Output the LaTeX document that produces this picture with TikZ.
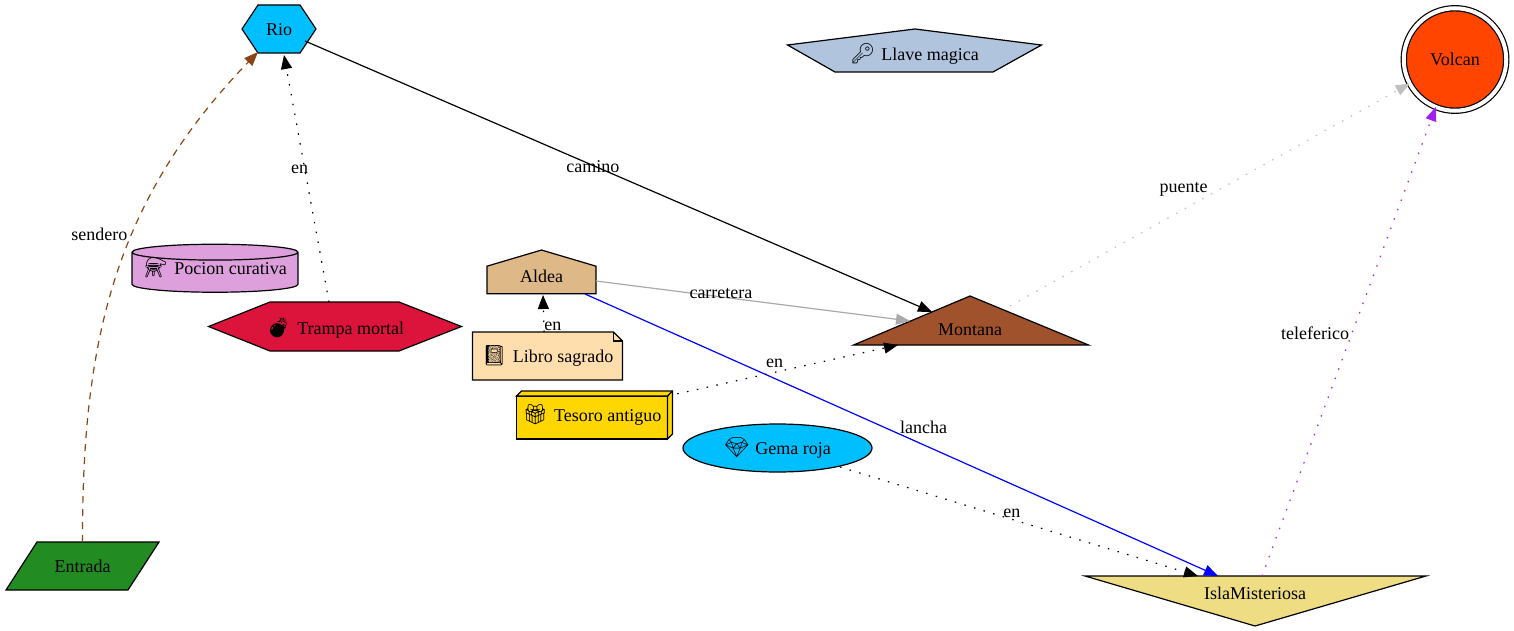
\documentclass[tikz,border=0pt]{standalone}
\usepackage{fontspec}
\setmainfont{Liberation Serif}
\newfontfamily\emojifont{Noto Emoji}
\usetikzlibrary{shapes.geometric, shapes.symbols, arrows.meta, calc, backgrounds}
\definecolor{burlywoodc}{RGB}{222,184,135}
\definecolor{plumc}{RGB}{221,160,221}
\definecolor{crimsonc}{RGB}{220,20,60}
\definecolor{navajoc}{RGB}{255,222,173}
\definecolor{goldc}{RGB}{255,215,0}
\definecolor{skyc}{RGB}{0,191,255}
\definecolor{siennac}{RGB}{160,82,45}
\definecolor{forestc}{RGB}{34,139,34}
\definecolor{goldenrodc}{RGB}{238,221,130}
\definecolor{orangeredc}{RGB}{255,69,0}
\definecolor{steelc}{RGB}{176,196,222}
\definecolor{saddlec}{RGB}{139,69,19}
\definecolor{silverc}{RGB}{192,192,192}
\definecolor{darkgrayc}{RGB}{169,169,169}
\definecolor{purplec}{RGB}{160,32,240}
\newcommand{\icon}[1]{{\emojifont\fontsize{20}{20}\selectfont #1}\hspace{6pt}}

\begin{document}
\begin{tikzpicture}[
    x=1pt, y=1pt,
    line width=1.2pt,
    every node/.style={font=\fontsize{18}{20}\selectfont, inner sep=0pt, outer sep=0pt},
    polybox/.style={draw, line width=1.2pt},
    arrow/.style={-{Triangle[length=14pt,width=11pt]}},
    dots/.style={dash pattern=on 1.5pt off 8.5pt},
    dashes/.style={dash pattern=on 7pt off 6pt}
]
    \useasboundingbox (0,0) rectangle (1514,-631);

    \node (rio) at (279,-30) {Rio};
    \node (trampa) at (335,-328) {\icon{💣}Trampa mortal};
    \node[cylinder, draw, shape border rotate=90, aspect=0.11, cylinder uses custom fill, cylinder body fill=plumc, cylinder end fill=plumc, minimum width=166pt, minimum height=48pt] (pocion) at (215,-272.5) {\raisebox{-1.5pt}[0pt][0pt]{\icon{⚗}Pocion curativa}};
    \node[signal, signal to=north, signal pointer angle=147, draw, fill=burlywoodc, minimum width=109pt, minimum height=34pt] (aldea) at (541.5,-280) {\raisebox{7pt}{Aldea}};
    \node[minimum width=150pt, minimum height=48pt] (libro) at (547.5,-356) {\raisebox{-9pt}{\icon{📓}Libro sagrado}};
    \node[rectangle, draw, fill=goldc, minimum width=151pt, minimum height=43pt] (tesoro) at (592,-417.5) {\raisebox{9pt}{\icon{🎁}Tesoro antiguo}};
    \node[ellipse, draw, fill=skyc, minimum width=189pt, minimum height=48pt] (gema) at (777.5,-448) {\raisebox{-1pt}{\icon{💎}Gema roja}};
    \node (montana) at (970,-330) {Montana};
    \node (isla) at (1255,-593) {IslaMisteriosa};
    \node[minimum width=155pt, minimum height=48pt] (entrada) at (82.5,-566) {Entrada};
    \node[circle, draw, double=white, double distance=4pt, fill=orangeredc, minimum size=102.5pt] (volcan) at (1455,-59.5) {Volcan};
    \node (llave) at (914.5,-54) {\icon{🔑}Llave magica};

    \begin{scope}[on background layer]
        \path[polybox, fill=skyc] (242,-29) -- (258,-5) -- (300,-5) -- (316,-29) -- (300,-53) -- (258,-53) -- cycle;
        \path[polybox, fill=crimsonc] (208.5,-326.5) -- (270,-302) -- (399,-302) -- (461.5,-326.5) -- (399,-351) -- (270,-351) -- cycle;
        \path[polybox, fill=steelc] (787.5,-45) -- (915,-29) -- (1041.5,-45) -- (993,-72) -- (835,-72) -- cycle;
        \path[polybox, fill=siennac] (853.5,-345) -- (970,-296) -- (1088.5,-345) -- cycle;
        \path[polybox, fill=goldenrodc] (1085,-576) -- (1426,-576) -- (1255,-626) -- cycle;
        \path[polybox, fill=forestc] (6,-590) -- (37,-542) -- (159,-542) -- (128,-590) -- cycle;
        \path[polybox, fill=navajoc] (libro.south west) -- (libro.south east) -- ([yshift=-9pt]libro.north east) -- ([xshift=-9pt]libro.north east) -- (libro.north west) -- cycle;
    \end{scope}
    % box3d side and fold of the note
    \draw[fill=goldc] (tesoro.north west) -- ++(5,5) -- ++(151,0) -- ++(0,-43) -- (tesoro.south east) -- (tesoro.north east) -- cycle;
    \draw (tesoro.north east) -- ++(5,5);
    \draw ([xshift=-9pt]libro.north east) -- ++(0,-9) -- ++(9,0);

    \draw[arrow, saddlec, dashes] (entrada.north) .. controls (82,-340) and (115,-200) .. node[pos=0.6, black, xshift=-35pt, yshift=-4pt] (lsendero) {sendero} ([shift={(-21,-22)}]rio.center);
    \draw[arrow] ([shift={(26,-11)}]rio.center) -- node[pos=0.459, yshift=-1pt] (lcamino) {camino} ([shift={(-38,18)}]montana.center);
    \draw[arrow, dots] ([shift={(-6,26)}]trampa.center) -- node[pos=0.54, xshift=-5pt, yshift=-1pt] (lrio) {en} ([shift={(5,-25)}]rio.center);
    \draw[arrow, darkgrayc] ([shift={(54.5,-1)}]aldea.center) -- node[pos=0.398, yshift=3pt, text=black] (lcarretera) {carretera} ([shift={(-60,9)}]montana.center);
    \draw[arrow, blue] ([shift={(43.5,-14)}]aldea.center) -- node[pos=0.535, yshift=18pt, text=black] (llancha) {lancha} ([shift={(-37,17)}]isla.center);
    \draw[arrow, dots] ([xshift=-3.5pt]libro.north) -- node[pos=0.2, xshift=9pt, yshift=-2pt] (laldea) {en} ([shift={(1.5,-15)}]aldea.center);
    \draw[arrow, dots] (tesoro.north east) -- node[pos=0.465, yshift=9pt] (lmontana) {en} ([shift={(-72,-15)}]montana.center);
    \draw[arrow, dots] ([shift={(62.5,-19)}]gema.center) -- node[pos=0.48, yshift=6pt] (lisla) {en} ([shift={(-57,17)}]isla.center);
    \draw[arrow, silverc, dots] ([shift={(40,24)}]montana.center) -- node[pos=0.434, yshift=20pt, text=black] (lpuente) {puente} (volcan.208);
    \draw[arrow, purplec, dots] ([shift={(7,17)}]isla.center) -- node[pos=0.524, xshift=-38pt, yshift=-3pt, text=black] (lteleferico) {teleferico} (volcan.248);
\end{tikzpicture}
\end{document}
